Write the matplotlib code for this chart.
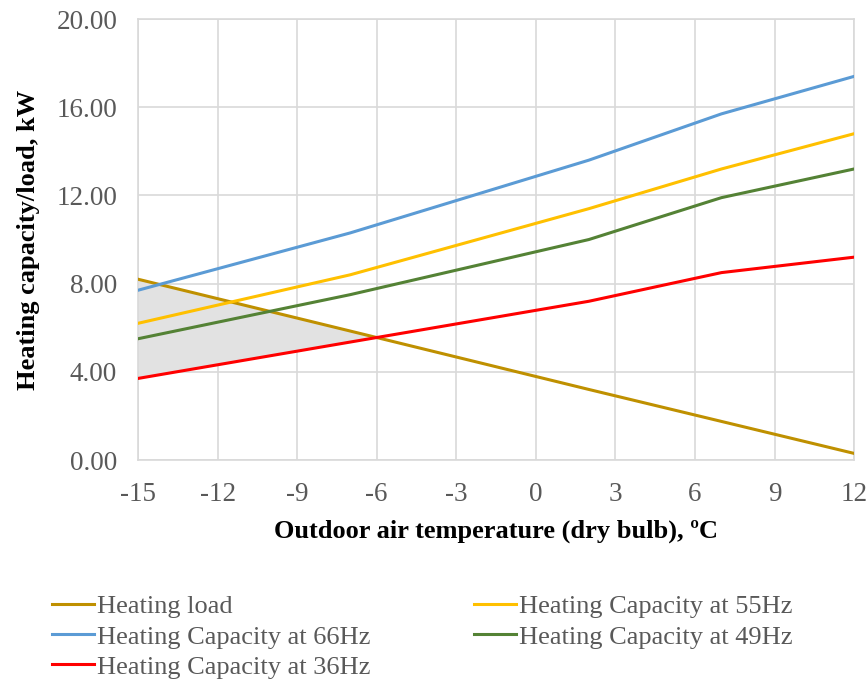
import matplotlib.pyplot as plt
import numpy as np

plt.rcParams['font.family'] = ['Liberation Serif', 'DejaVu Serif']

# outdoor temperature, degC
temp = [-15, -7, 2, 7, 12]
# heating load and capacities, kW
load = [8.2, 5.85, 3.2, 1.75, 0.3]
cap_66 = [7.7, 10.3, 13.6, 15.7, 17.4]
cap_55 = [6.2, 8.4, 11.4, 13.2, 14.8]
cap_49 = [5.5, 7.5, 10.0, 11.9, 13.2]
cap_36 = [3.7, 5.35, 7.2, 8.5, 9.2]

xticks = [-15, -12, -9, -6, -3, 0, 3, 6, 9, 12]
yticks = [0, 4, 8, 12, 16, 20]

grey = '#595959'
gridc = '#d9d9d9'

fig = plt.figure(figsize=(8.68, 6.8), dpi=100)
ax = fig.add_axes([0.159, 0.3235, 0.825, 0.6485])

# shaded area: load above the 36Hz capacity
xx = np.array(temp, dtype=float)
ax.fill_between(xx, load, cap_36, where=np.array(load) >= np.array(cap_36),
                interpolate=True, color='#e2e2e2', zorder=1, linewidth=0)

lw = 2.2
h_load, = ax.plot(temp, load, color='#BF9000', lw=lw, label='Heating load', zorder=3)
h55, = ax.plot(temp, cap_55, color='#FFC000', lw=lw, label='Heating Capacity at 55Hz', zorder=3)
h66, = ax.plot(temp, cap_66, color='#5B9BD5', lw=lw, label='Heating Capacity at 66Hz', zorder=3)
h49, = ax.plot(temp, cap_49, color='#548235', lw=lw, label='Heating Capacity at 49Hz', zorder=3)
h36, = ax.plot(temp, cap_36, color='#FF0000', lw=lw, label='Heating Capacity at 36Hz', zorder=3)

ax.set_xlim(-15, 12)
ax.set_ylim(0, 20)
ax.set_xticks(xticks)
ax.set_yticks(yticks)
ax.set_xticklabels([str(t) for t in xticks])
ax.set_yticklabels(['%.2f' % t for t in yticks])
ax.tick_params(length=0, labelsize=19.5, labelcolor=grey)
ax.tick_params(axis='x', pad=16)
ax.tick_params(axis='y', pad=15)
ax.grid(True, color=gridc, lw=1.2, zorder=0)
ax.set_axisbelow(True)
for s in ax.spines.values():
    s.set_color(gridc)
    s.set_linewidth(1.2)

ax.set_xlabel('Outdoor air temperature (dry bulb), \u00baC', fontsize=19,
              fontweight='bold', labelpad=9)
ax.set_ylabel('Heating capacity/load, kW', fontsize=19, fontweight='bold', labelpad=12)

order = [h_load, h66, h36, h55, h49]
leg = fig.legend(order, [h.get_label() for h in order],
                 ncol=2, loc='upper left', bbox_to_anchor=(52 / 868, 1 - 595 / 680),
                 frameon=False, fontsize=19, handlelength=1.6, handletextpad=0.12,
                 columnspacing=3.9, labelspacing=0.25, borderaxespad=0,
                 borderpad=0)
for t in leg.get_texts():
    t.set_color(grey)

fig.savefig('out.png', dpi=100)
